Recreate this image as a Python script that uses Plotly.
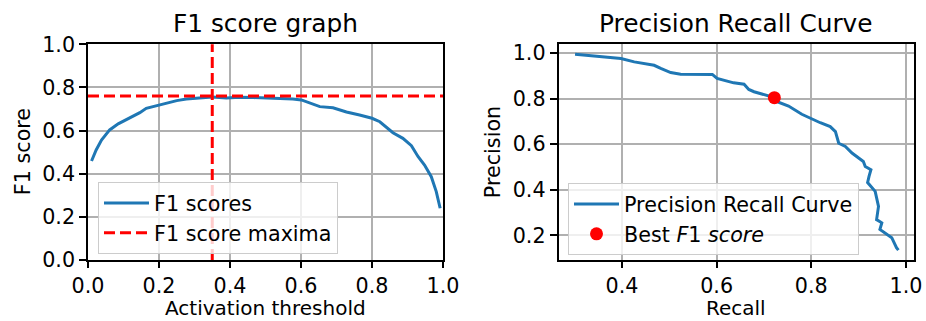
import plotly.graph_objects as go

# ---------------- data ----------------
thresholds = [0.01, 0.023, 0.038, 0.061, 0.085, 0.117, 0.146, 0.164, 0.188, 0.20,
              0.22, 0.25, 0.277, 0.315, 0.35, 0.39, 0.427, 0.465, 0.502, 0.549,
              0.577, 0.601, 0.62, 0.653, 0.69, 0.728, 0.765, 0.80, 0.822, 0.84,
              0.859, 0.887, 0.911, 0.93, 0.948, 0.967, 0.981, 0.992]
f1_scores = [0.459, 0.51, 0.556, 0.603, 0.631, 0.657, 0.683, 0.703, 0.714, 0.716,
             0.728, 0.739, 0.746, 0.751, 0.756, 0.751, 0.754, 0.753, 0.751, 0.750,
             0.746, 0.742, 0.73, 0.711, 0.706, 0.686, 0.672, 0.657, 0.641, 0.618,
             0.59, 0.564, 0.53, 0.479, 0.44, 0.386, 0.317, 0.24]
best_threshold = 0.35
best_f1 = 0.76

recall = [0.301, 0.349, 0.398, 0.426, 0.468, 0.482, 0.503, 0.524, 0.591, 0.601,
          0.622, 0.636, 0.658, 0.668, 0.679, 0.707, 0.722, 0.728, 0.752, 0.78,
          0.801, 0.819, 0.84, 0.851, 0.858, 0.872, 0.886, 0.90, 0.91, 0.914,
          0.926, 0.922, 0.919, 0.935, 0.942, 0.938, 0.949, 0.945, 0.97, 0.98, 0.984]
precision = [0.994, 0.985, 0.976, 0.961, 0.946, 0.932, 0.914, 0.907, 0.906, 0.888,
             0.878, 0.869, 0.863, 0.84, 0.83, 0.815, 0.804, 0.786, 0.767, 0.731,
             0.71, 0.694, 0.677, 0.655, 0.604, 0.59, 0.561, 0.539, 0.524, 0.502,
             0.488, 0.459, 0.432, 0.393, 0.327, 0.269, 0.255, 0.226, 0.19, 0.146, 0.135]
best_recall = [0.722]
best_precision = [0.804]

tick_left = [0.0, 0.2, 0.4, 0.6, 0.8, 1.0]
tick_right_x = [0.4, 0.6, 0.8, 1.0]
tick_right_y = [0.2, 0.4, 0.6, 0.8, 1.0]

titles = ["F1 score graph", "Precision Recall Curve"]
xlabels = ["Activation threshold", "Recall"]
ylabels = ["F1 score", "Precision"]

# ---------------- style ----------------
W, H = 926, 321
FONT = "DejaVu Sans"
BLUE = "#1f77b4"
GRID = "#b0b0b0"
FS = 20.7
FX = 20.0
FT = 24.8

def px_x(p):
    return p / W

def px_y(p):
    return 1 - p / H

fig = go.Figure()

fig.add_trace(go.Scatter(x=thresholds, y=f1_scores, mode="lines", name="F1 scores",
                         line=dict(color=BLUE, width=3), xaxis="x", yaxis="y",
                         legend="legend"))
fig.add_trace(go.Scatter(x=[None], y=[None], mode="lines", name="F1 score maxima",
                         line=dict(color="red", width=3, dash="11px,5px"),
                         xaxis="x", yaxis="y", legend="legend"))

fig.add_trace(go.Scatter(x=recall, y=precision, mode="lines", name="Precision Recall Curve",
                         line=dict(color=BLUE, width=3), xaxis="x2", yaxis="y2",
                         legend="legend2"))
fig.add_trace(go.Scatter(x=best_recall, y=best_precision, mode="markers",
                         name="Best <i>F</i>1 <i>score</i>",
                         marker=dict(color="red", size=13, line=dict(width=0)),
                         xaxis="x2", yaxis="y2", legend="legend2"))

# dashed maxima lines spanning the whole left axes
fig.add_shape(type="line", xref="x domain", yref="y", x0=0, x1=1, y0=best_f1, y1=best_f1,
              line=dict(color="red", width=3, dash="11px,5px"), layer="above")
fig.add_shape(type="line", xref="x", yref="y domain", x0=best_threshold, x1=best_threshold,
              y0=0, y1=1, line=dict(color="red", width=3, dash="11px,5px"), layer="above")

axis_common = dict(showgrid=True, gridcolor=GRID, gridwidth=1.5, showline=True,
                   linecolor="black", linewidth=1.5, mirror=True, ticks="outside",
                   tickwidth=1.5, tickcolor="black", zeroline=False,
                   tickfont=dict(family=FONT, size=FS, color="black"),
                   automargin=False, tickformat=".1f")

L0, L1 = px_x(88), px_x(443)
R0, R1 = px_x(558.5), px_x(914)
B, T = px_y(260), px_y(44.3)

def label(text, x, y, size, angle=0):
    return dict(text=text, x=x, y=y, xref="paper", yref="paper", showarrow=False,
                xanchor="center", yanchor="middle", textangle=angle,
                font=dict(family=FONT, size=size, color="black"))

annotations = [
    label(titles[0], (L0 + L1) / 2, px_y(23), FT),
    label(titles[1], (R0 + R1) / 2, px_y(23), FT),
    label(xlabels[0], (L0 + L1) / 2, px_y(307.8), FX),
    label(xlabels[1], (R0 + R1) / 2, px_y(307.8), FX),
    label(ylabels[0], px_x(23), (B + T) / 2, FS, -90),
    label(ylabels[1], px_x(493), (B + T) / 2, FS, -90),
]

fig.update_layout(
    width=W, height=H, margin=dict(l=0, r=0, t=0, b=0),
    paper_bgcolor="white", plot_bgcolor="white",
    font=dict(family=FONT, size=FS, color="black"),
    xaxis=dict(domain=[L0, L1], range=[0, 1], tickvals=tick_left, anchor="y", ticklen=6,
               **axis_common),
    yaxis=dict(domain=[B, T], range=[0, 1], tickvals=tick_left, anchor="x", ticklen=7,
               **axis_common),
    xaxis2=dict(domain=[R0, R1], range=[0.266, 1.017], tickvals=tick_right_x, anchor="y2",
                ticklen=6, **axis_common),
    yaxis2=dict(domain=[B, T], range=[0.092, 1.038], tickvals=tick_right_y, anchor="x2",
                ticklen=7, **axis_common),
    legend=dict(x=px_x(98), y=px_y(182), xanchor="left", yanchor="top",
                bgcolor="rgba(255,255,255,0.8)", bordercolor="#cccccc", borderwidth=1,
                font=dict(family=FONT, size=FS), itemwidth=45, tracegroupgap=0),
    legend2=dict(x=px_x(568), y=px_y(183), xanchor="left", yanchor="top",
                 bgcolor="rgba(255,255,255,0.8)", bordercolor="#cccccc", borderwidth=1,
                 font=dict(family=FONT, size=FS), itemwidth=45, tracegroupgap=0),
    showlegend=True,
    annotations=annotations,
)

fig.write_html("out.html")
